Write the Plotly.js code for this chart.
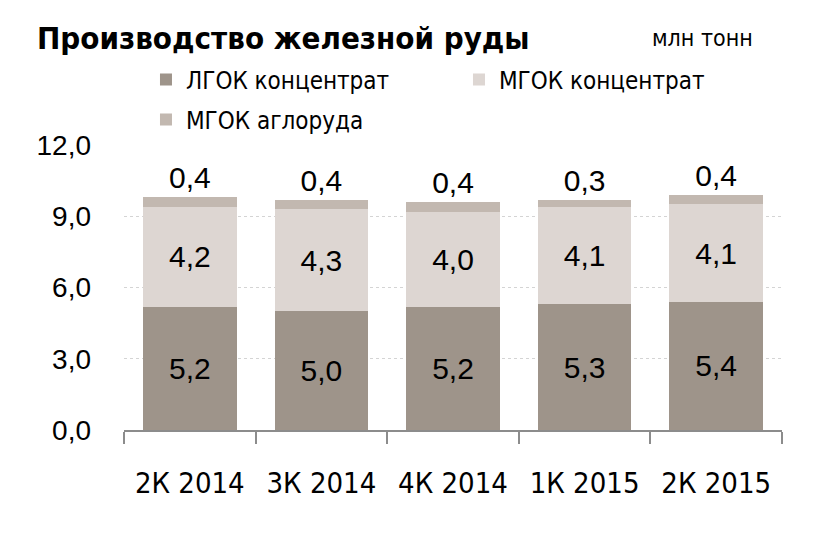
<!DOCTYPE html>
<html>
<head>
<meta charset="utf-8">
<script src="https://cdn.plot.ly/plotly-3.0.1.min.js"></script>
<style>
  html, body { margin: 0; padding: 0; background: #fff; }
  #chart { width: 833px; height: 537px; }
</style>
</head>
<body>
<div id="chart"></div>
<script>
const quarters = ["2К 2014", "3К 2014", "4К 2014", "1К 2015", "2К 2015"];
const lgokConc = [5.2, 5.0, 5.2, 5.3, 5.4];
const mgokConc = [4.2, 4.3, 4.0, 4.1, 4.1];
const mgokAglo = [0.4, 0.4, 0.4, 0.3, 0.4];
const yTicks = [0, 3, 6, 9, 12];

const NARROW = "'DejaVu Sans Condensed', sans-serif";
const NUM = "'Liberation Sans', Arial, sans-serif";

const traces = [
  {
    type: "bar",
    name: "ЛГОК концентрат",
    x: quarters,
    y: lgokConc,
    marker: { color: "#9e948a" },
    texttemplate: "%{y:.1f}",
    textposition: "inside",
    insidetextanchor: "middle",
    textfont: { family: NUM, size: 30, color: "#000" },
    legend: "legend",
    hoverinfo: "skip"
  },
  {
    type: "bar",
    name: "МГОК концентрат",
    x: quarters,
    y: mgokConc,
    marker: { color: "#ddd6d2" },
    texttemplate: "%{y:.1f}",
    textposition: "inside",
    insidetextanchor: "middle",
    textfont: { family: NUM, size: 30, color: "#000" },
    legend: "legend",
    hoverinfo: "skip"
  },
  {
    type: "bar",
    name: "МГОК аглоруда",
    x: quarters,
    y: mgokAglo,
    marker: { color: "#c2b8b0" },
    texttemplate: "%{y:.1f}",
    textposition: "outside",
    textfont: { family: NUM, size: 30, color: "#000" },
    cliponaxis: false,
    legend: "legend2",
    hoverinfo: "skip"
  }
];

const legendBase = {
  orientation: "h",
  xref: "paper",
  yref: "paper",
  x: 0.0334,
  xanchor: "left",
  yanchor: "middle",
  font: { family: NARROW, size: 24, color: "#000" },
  bgcolor: "rgba(0,0,0,0)",
  entrywidth: 268,
  traceorder: "normal"
};

const layout = {
  width: 833,
  height: 537,
  margin: { l: 124, r: 51, t: 145, b: 107 },
  paper_bgcolor: "#fff",
  plot_bgcolor: "#fff",
  separators: ", ",
  barmode: "stack",
  bargap: 0.29,
  showlegend: true,
  title: {
    text: "<b>Производство железной руды</b>",
    xref: "container",
    x: 37 / 833,
    xanchor: "left",
    yref: "container",
    y: 1 - 38 / 537,
    yanchor: "middle",
    font: { family: NARROW, size: 31, color: "#000" }
  },
  legend: Object.assign({}, legendBase, { y: 1.228 }),
  legend2: Object.assign({}, legendBase, { y: 1.088 }),
  xaxis: {
    type: "category",
    showline: true,
    linecolor: "#8c8c8c",
    linewidth: 2,
    ticks: "outside",
    tickson: "boundaries",
    ticklen: 12,
    tickwidth: 2,
    tickcolor: "#8c8c8c",
    ticklabelstandoff: 26,
    showgrid: false,
    tickfont: { family: NARROW, size: 29, color: "#000" },
    fixedrange: true
  },
  yaxis: {
    range: [0, 12],
    tickvals: yTicks,
    tickformat: ".1f",
    showgrid: true,
    gridcolor: "#d4d4d4",
    griddash: "dot",
    gridwidth: 1,
    zeroline: false,
    showline: false,
    ticks: "",
    ticklabelstandoff: 32,
    tickfont: { family: NUM, size: 28, color: "#000" },
    fixedrange: true
  },
  annotations: [
    {
      text: "млн тонн",
      xref: "paper",
      yref: "paper",
      x: (755 - 124) / 658,
      y: (430 - 38) / 285,
      xanchor: "right",
      yanchor: "middle",
      showarrow: false,
      font: { family: NARROW, size: 23, color: "#000" }
    }
  ]
};

Plotly.newPlot("chart", traces, layout, { displayModeBar: false, staticPlot: true });
</script>
</body>
</html>
